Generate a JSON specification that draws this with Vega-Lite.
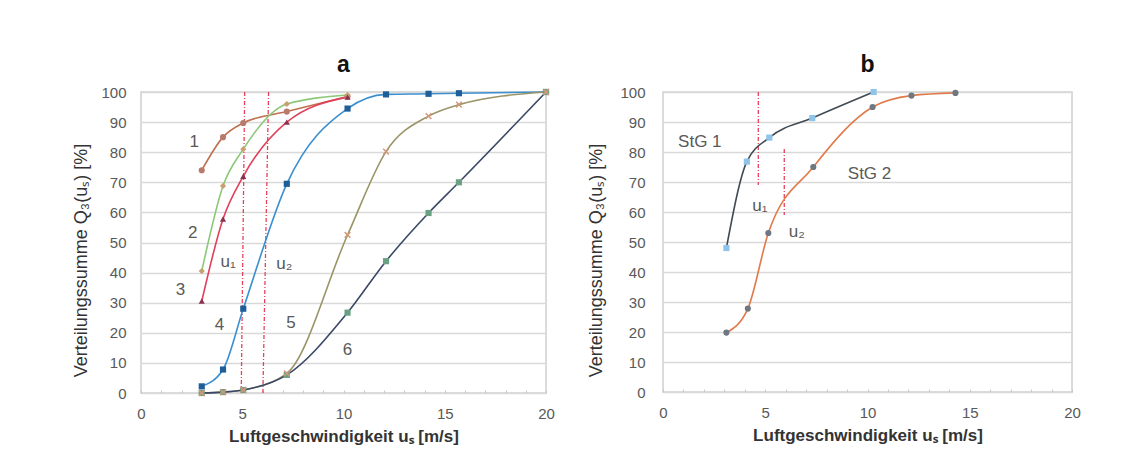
{
  "$schema": "https://vega.github.io/schema/vega-lite/v6.json",
  "background": "white",
  "padding": {"left": 72, "top": 53, "right": 5, "bottom": 5},
  "config": {
    "font": "Liberation Sans",
    "view": {"stroke": "#d0d0d0", "strokeWidth": 1.5},
    "axis": {"labelFont": "Liberation Sans", "labelFontSize": 15, "labelColor": "#595959", "titleFont": "Liberation Sans", "titleFontSize": 17, "titleColor": "#333333", "domain": false, "gridColor": "#d9d9d9", "gridWidth": 1.5, "tickColor": "#c8c8c8", "labelFlush": false, "labelOverlap": false},
    "title": {"font": "Liberation Sans", "fontSize": 23, "fontWeight": "bold", "color": "#111111"},
    "concat": {"spacing": 31}
  },
  "resolve": {"scale": {"stroke": "independent", "fill": "independent", "shape": "independent"}},
  "datasets": {
    "a": [
      {"s": "1", "x": 3, "y": 74}, {"s": "1", "x": 4.05, "y": 85}, {"s": "1", "x": 5.05, "y": 89.7}, {"s": "1", "x": 7.2, "y": 93.5}, {"s": "1", "x": 10.2, "y": 98.5},
      {"s": "2", "x": 3, "y": 40.5}, {"s": "2", "x": 4.05, "y": 68.8}, {"s": "2", "x": 5.05, "y": 81}, {"s": "2", "x": 7.2, "y": 96}, {"s": "2", "x": 10.2, "y": 99},
      {"s": "3", "x": 3, "y": 30.5}, {"s": "3", "x": 4.05, "y": 57.8}, {"s": "3", "x": 5.05, "y": 72}, {"s": "3", "x": 7.2, "y": 90}, {"s": "3", "x": 10.2, "y": 98.3},
      {"s": "4", "x": 3, "y": 2.2}, {"s": "4", "x": 4.05, "y": 7.8}, {"s": "4", "x": 5.05, "y": 28}, {"s": "4", "x": 7.2, "y": 69.5}, {"s": "4", "x": 10.2, "y": 94.5}, {"s": "4", "x": 12.1, "y": 99.2}, {"s": "4", "x": 14.2, "y": 99.4}, {"s": "4", "x": 15.7, "y": 99.6}, {"s": "4", "x": 20, "y": 100},
      {"s": "5", "x": 3, "y": 0}, {"s": "5", "x": 4.05, "y": 0.3}, {"s": "5", "x": 5.05, "y": 1}, {"s": "5", "x": 7.2, "y": 6.5}, {"s": "5", "x": 10.2, "y": 52.5}, {"s": "5", "x": 12.1, "y": 80.2}, {"s": "5", "x": 14.2, "y": 92}, {"s": "5", "x": 15.7, "y": 95.8}, {"s": "5", "x": 20, "y": 100},
      {"s": "6", "x": 3, "y": 0}, {"s": "6", "x": 4.05, "y": 0.3}, {"s": "6", "x": 5.05, "y": 1}, {"s": "6", "x": 7.2, "y": 6}, {"s": "6", "x": 10.2, "y": 26.7}, {"s": "6", "x": 12.1, "y": 43.8}, {"s": "6", "x": 14.2, "y": 59.8}, {"s": "6", "x": 15.7, "y": 70}, {"s": "6", "x": 20, "y": 100}
    ],
    "b": [
      {"s": "StG 1", "x": 3.1, "y": 48}, {"s": "StG 1", "x": 4.1, "y": 76.8}, {"s": "StG 1", "x": 5.2, "y": 84.8}, {"s": "StG 1", "x": 7.3, "y": 91.3}, {"s": "StG 1", "x": 10.3, "y": 100},
      {"s": "StG 2", "x": 3.1, "y": 19.8}, {"s": "StG 2", "x": 4.15, "y": 27.8}, {"s": "StG 2", "x": 5.15, "y": 53}, {"s": "StG 2", "x": 7.35, "y": 75}, {"s": "StG 2", "x": 10.25, "y": 95}, {"s": "StG 2", "x": 12.15, "y": 98.8}, {"s": "StG 2", "x": 14.3, "y": 99.7}
    ],
    "rulesA": [
      {"x": 5.12, "x2": 4.95, "y": 100, "y2": 0},
      {"x": 6.3, "x2": 6.02, "y": 100, "y2": 0}
    ],
    "rulesB": [
      {"x": 4.66, "x2": 4.66, "y": 100, "y2": 69},
      {"x": 5.93, "x2": 5.93, "y": 81, "y2": 59}
    ],
    "labelsA": [
      {"t": "1", "x": 2.63, "y": 83.5},
      {"t": "2", "x": 2.55, "y": 53.2},
      {"t": "3", "x": 1.95, "y": 34.2},
      {"t": "4", "x": 3.87, "y": 22.6},
      {"t": "5", "x": 7.41, "y": 23.2},
      {"t": "6", "x": 10.2, "y": 14.3},
      {"t": "u₁", "x": 4.3, "y": 43.6},
      {"t": "u₂", "x": 7.08, "y": 42.9}
    ],
    "labelsB": [
      {"t": "StG 1", "x": 1.8, "y": 83.3},
      {"t": "StG 2", "x": 10.1, "y": 72.7},
      {"t": "u₁", "x": 4.74, "y": 62},
      {"t": "u₂", "x": 6.54, "y": 53.2}
    ]
  },
  "hconcat": [
    {
      "width": 405,
      "height": 301,
      "title": {"text": "a", "offset": 8},
      "encoding": {
        "x": {"field": "x", "type": "quantitative", "scale": {"domain": [0, 20]},
          "axis": {"values": [0,1,2,3,4,5,6,7,8,9,10,11,12,13,14,15,16,17,18,19,20], "labelExpr": "datum.value % 5 === 0 ? datum.label : ''", "grid": false, "tickSize": -3, "labelPadding": 16, "title": "Luftgeschwindigkeit uₛ [m/s]", "titleFontWeight": "bold", "titlePadding": 7}},
        "y": {"field": "y", "type": "quantitative", "scale": {"domain": [0, 100]},
          "axis": {"values": [0,10,20,30,40,50,60,70,80,90,100], "ticks": false, "labelPadding": 15, "title": "Verteilungssumme Q₃(uₛ) [%]", "titleFontWeight": "normal", "titleFontSize": 18, "titlePadding": 10, "titleY": 168}}
      },
      "layer": [
        {"data": {"name": "rulesA"}, "mark": {"type": "rule", "color": "#e8405a", "strokeWidth": 1.3, "strokeDash": [4, 2, 1, 2]},
          "encoding": {"x2": {"field": "x2"}, "y2": {"field": "y2"}}},
        {"data": {"name": "a"}, "mark": {"type": "line", "interpolate": "monotone", "strokeWidth": 1.6},
          "encoding": {"stroke": {"field": "s", "type": "nominal", "legend": null,
            "scale": {"domain": ["1","2","3","4","5","6"], "range": ["#c0704f", "#8cc878", "#e0405a", "#3a8fd0", "#9a9466", "#3a4766"]}}}},
        {"data": {"name": "a"}, "transform": [{"filter": "datum.s !== '5'"}], "mark": {"type": "point", "filled": true, "size": 38, "opacity": 1},
          "encoding": {
            "fill": {"field": "s", "type": "nominal", "legend": null,
              "scale": {"domain": ["1","2","3","4","6"], "range": ["#b87a6c", "#c8a070", "#8b3050", "#1f5f99", "#6aa084"]}},
            "shape": {"field": "s", "type": "nominal", "legend": null,
              "scale": {"domain": ["1","2","3","4","6"], "range": ["circle", "diamond", "triangle-up", "square", "square"]}}}},
        {"data": {"name": "a"}, "transform": [{"filter": "datum.s === '5'"}], "mark": {"type": "point", "filled": false, "size": 40, "shape": "M-0.9,-0.9L0.9,0.9M-0.9,0.9L0.9,-0.9", "color": "#d09878", "strokeWidth": 1.5, "opacity": 1}},
        {"data": {"name": "labelsA"}, "mark": {"type": "text", "fontSize": 17, "color": "#595959", "align": "center", "baseline": "middle"},
          "encoding": {"text": {"field": "t"}}}
      ]
    },
    {
      "width": 409,
      "height": 300,
      "title": {"text": "b", "offset": 8},
      "encoding": {
        "x": {"field": "x", "type": "quantitative", "scale": {"domain": [0, 20]},
          "axis": {"values": [0,1,2,3,4,5,6,7,8,9,10,11,12,13,14,15,16,17,18,19,20], "labelExpr": "datum.value % 5 === 0 ? datum.label : ''", "grid": false, "tickSize": -3, "labelPadding": 16, "title": "Luftgeschwindigkeit uₛ [m/s]", "titleFontWeight": "bold", "titlePadding": 7}},
        "y": {"field": "y", "type": "quantitative", "scale": {"domain": [0, 100]},
          "axis": {"values": [0,10,20,30,40,50,60,70,80,90,100], "ticks": false, "labelPadding": 18, "title": "Verteilungssumme Q₃(uₛ) [%]", "titleFontWeight": "normal", "titleFontSize": 18, "titlePadding": 14, "titleY": 168}}
      },
      "layer": [
        {"data": {"name": "rulesB"}, "mark": {"type": "rule", "color": "#e8405a", "strokeWidth": 1.3, "strokeDash": [4, 2, 1, 2]},
          "encoding": {"x2": {"field": "x2"}, "y2": {"field": "y2"}}},
        {"data": {"name": "b"}, "mark": {"type": "line", "interpolate": "monotone", "strokeWidth": 1.6},
          "encoding": {"stroke": {"field": "s", "type": "nominal", "legend": null,
            "scale": {"domain": ["StG 1", "StG 2"], "range": ["#414a52", "#e07a4a"]}}}},
        {"data": {"name": "b"}, "mark": {"type": "point", "filled": true, "size": 38, "opacity": 1},
          "encoding": {
            "fill": {"field": "s", "type": "nominal", "legend": null,
              "scale": {"domain": ["StG 1", "StG 2"], "range": ["#8ec3ea", "#6f7780"]}},
            "shape": {"field": "s", "type": "nominal", "legend": null,
              "scale": {"domain": ["StG 1", "StG 2"], "range": ["square", "circle"]}}}},
        {"data": {"name": "labelsB"}, "mark": {"type": "text", "fontSize": 17, "color": "#595959", "align": "center", "baseline": "middle"},
          "encoding": {"text": {"field": "t"}}}
      ]
    }
  ]
}
